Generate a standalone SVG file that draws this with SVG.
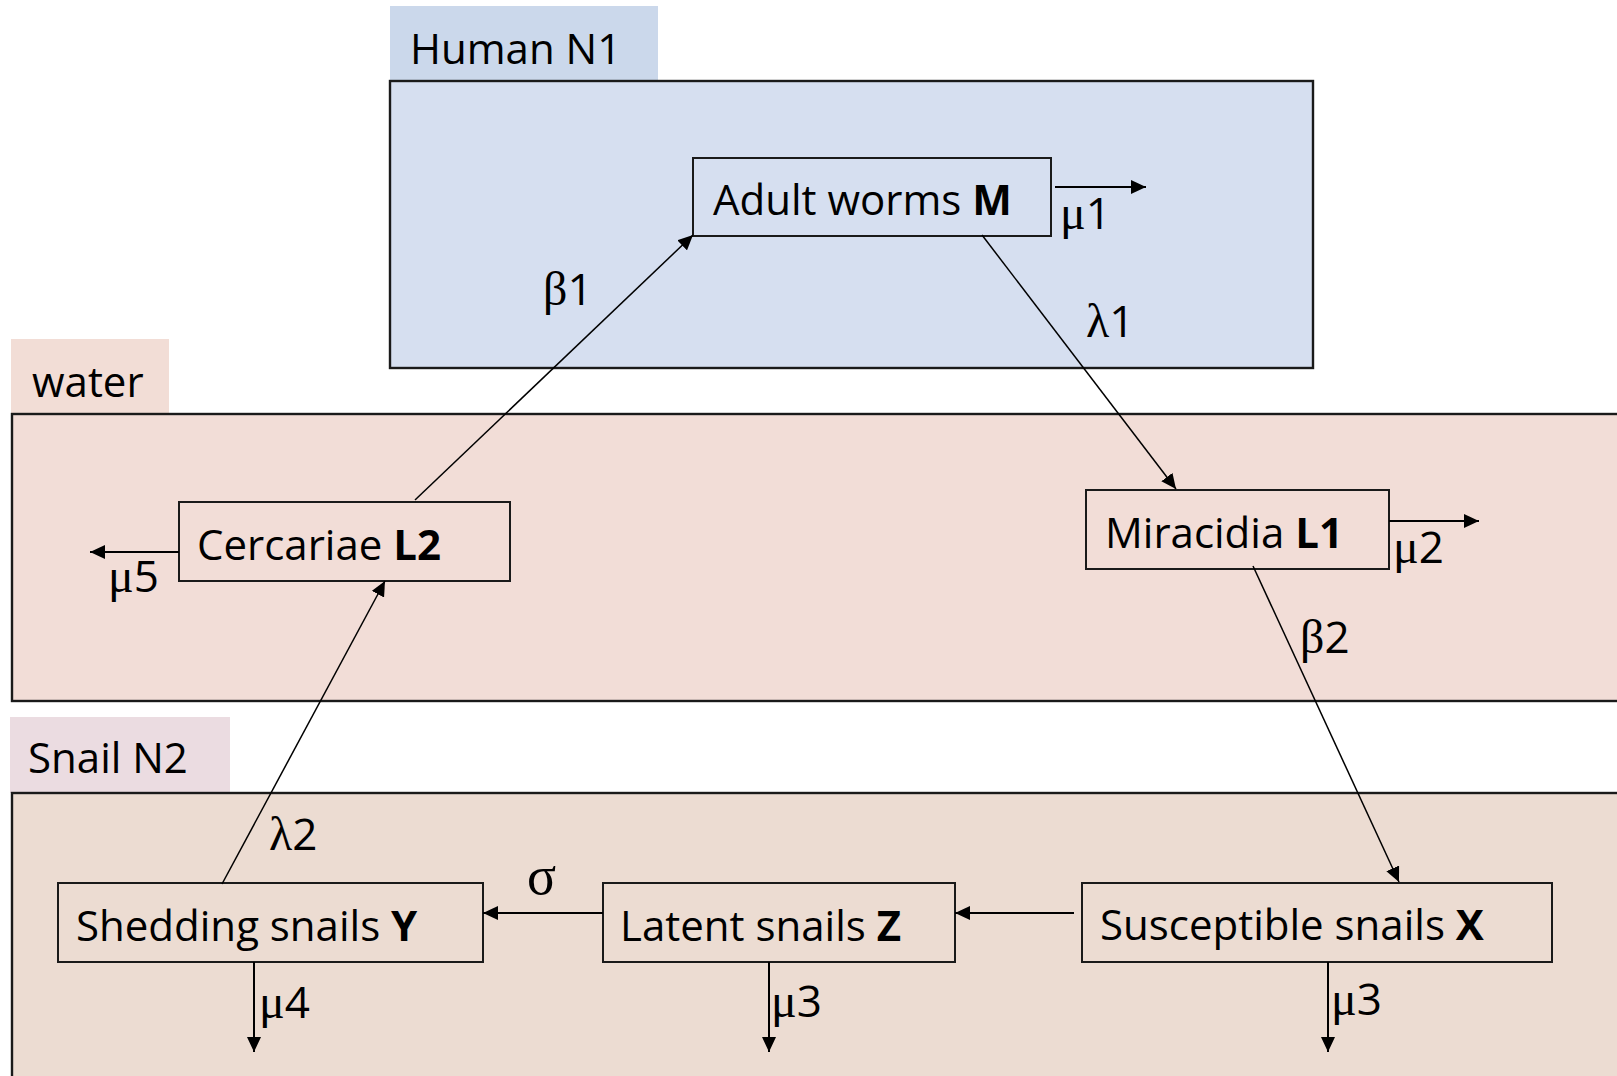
<svg xmlns="http://www.w3.org/2000/svg" width="1617" height="1076" viewBox="0 0 1617 1076">
  <style>
    .zone { stroke: #1a1a1a; stroke-width: 2.4; }
    .tab { stroke: none; }
    .tabtxt { font-family: "Open Sans", "Noto Sans", sans-serif; font-size: 42px; fill: #000; }
    .box { stroke: #1a1a1a; stroke-width: 2; }
    .node { font-family: "Open Sans", "Noto Sans", sans-serif; font-size: 42px; fill: #000; }
    .b { font-weight: bold; }
    .link { fill: none; stroke: #000; stroke-width: 1.5; marker-end: url(#head); }
    .out { fill: none; stroke: #000; stroke-width: 2; marker-end: url(#head); }
    .rate { font-family: "Open Sans", "Noto Sans", sans-serif; font-size: 44px; fill: #000; }
    .gr { font-family: "Liberation Serif", "DejaVu Serif", serif; font-size: 48px; }
    .sig { font-family: "Liberation Serif", "DejaVu Serif", serif; font-size: 54px; fill: #000; }
  </style>
  <defs>
    <marker id="head" markerUnits="userSpaceOnUse" markerWidth="16" markerHeight="14" refX="15" refY="7" orient="auto">
      <path d="M0,0 L15,7 L0,14 Z" fill="#000"/>
    </marker>
  </defs>

  <rect width="1617" height="1076" fill="#ffffff"/>

  <!-- compartments -->
  <g id="zone-human">
    <rect class="tab" x="390" y="6" width="268" height="76" fill="#cbd8eb"/>
    <rect class="zone" x="390" y="81" width="923" height="287" fill="#d6dff0"/>
    <text class="tabtxt" x="410" y="64">Human N1</text>
  </g>
  <g id="zone-water">
    <rect class="tab" x="11" y="339" width="158" height="76" fill="#f2ddd6"/>
    <rect class="zone" x="12" y="414" width="1620" height="287" fill="#f2ddd7"/>
    <text class="tabtxt" x="32" y="397">water</text>
  </g>
  <g id="zone-snail">
    <rect class="tab" x="10" y="717" width="220" height="76" fill="#ebdce1"/>
    <rect class="zone" x="12" y="793" width="1620" height="300" fill="#ecdcd2"/>
    <text class="tabtxt" x="28" y="773">Snail N2</text>
  </g>

  <!-- compartment boxes -->
  <g id="node-M">
    <rect class="box" x="693" y="158" width="358" height="78" fill="#d6dff0"/>
    <text class="node" x="713" y="215">Adult worms <tspan class="b">M</tspan></text>
  </g>
  <g id="node-L2">
    <rect class="box" x="179" y="502" width="331" height="79" fill="#f2ddd7"/>
    <text class="node" x="197" y="560">Cercariae <tspan class="b">L2</tspan></text>
  </g>
  <g id="node-L1">
    <rect class="box" x="1086" y="490" width="303" height="79" fill="#f2ddd7"/>
    <text class="node" x="1105" y="548">Miracidia <tspan class="b">L1</tspan></text>
  </g>
  <g id="node-Y">
    <rect class="box" x="58" y="883" width="425" height="79" fill="#ecdcd2"/>
    <text class="node" x="76" y="941">Shedding snails <tspan class="b">Y</tspan></text>
  </g>
  <g id="node-Z">
    <rect class="box" x="603" y="883" width="352" height="79" fill="#ecdcd2"/>
    <text class="node" x="620" y="941">Latent snails <tspan class="b">Z</tspan></text>
  </g>
  <g id="node-X">
    <rect class="box" x="1082" y="883" width="470" height="79" fill="#ecdcd2"/>
    <text class="node" x="1100" y="940">Susceptible snails <tspan class="b">X</tspan></text>
  </g>

  <!-- transitions -->
  <g id="connectors">
    <line class="link" x1="415" y1="500" x2="693" y2="235"/>
    <line class="link" x1="982" y1="235" x2="1176" y2="489"/>
    <line class="link" x1="1253" y1="566" x2="1399" y2="882"/>
    <line class="link" x1="222" y1="884" x2="385" y2="581"/>
    <line class="out" x1="603" y1="913" x2="483" y2="913"/>
    <line class="out" x1="1074" y1="913" x2="955" y2="913"/>
    <line class="out" x1="1055" y1="187" x2="1146" y2="187"/>
    <line class="out" x1="1389" y1="521" x2="1479" y2="521"/>
    <line class="out" x1="179" y1="552" x2="90" y2="552"/>
    <line class="out" x1="254" y1="962" x2="254" y2="1052"/>
    <line class="out" x1="769" y1="962" x2="769" y2="1052"/>
    <line class="out" x1="1328" y1="962" x2="1328" y2="1052"/>
  </g>

  <!-- rate labels -->
  <g id="rates">
    <text class="rate" x="543" y="305"><tspan class="gr">β</tspan>1</text>
    <text class="rate" x="1086" y="337"><tspan class="gr">λ</tspan>1</text>
    <text class="rate" x="1060" y="229"><tspan class="gr">μ</tspan>1</text>
    <text class="rate" x="1393" y="563"><tspan class="gr">μ</tspan>2</text>
    <text class="rate" x="1300" y="653"><tspan class="gr">β</tspan>2</text>
    <text class="rate" x="108" y="592"><tspan class="gr">μ</tspan>5</text>
    <text class="rate" x="269" y="850"><tspan class="gr">λ</tspan>2</text>
    <text class="sig" x="527" y="894">σ</text>
    <text class="rate" x="259" y="1018"><tspan class="gr">μ</tspan>4</text>
    <text class="rate" x="771" y="1017"><tspan class="gr">μ</tspan>3</text>
    <text class="rate" x="1331" y="1015"><tspan class="gr">μ</tspan>3</text>
  </g>
</svg>
